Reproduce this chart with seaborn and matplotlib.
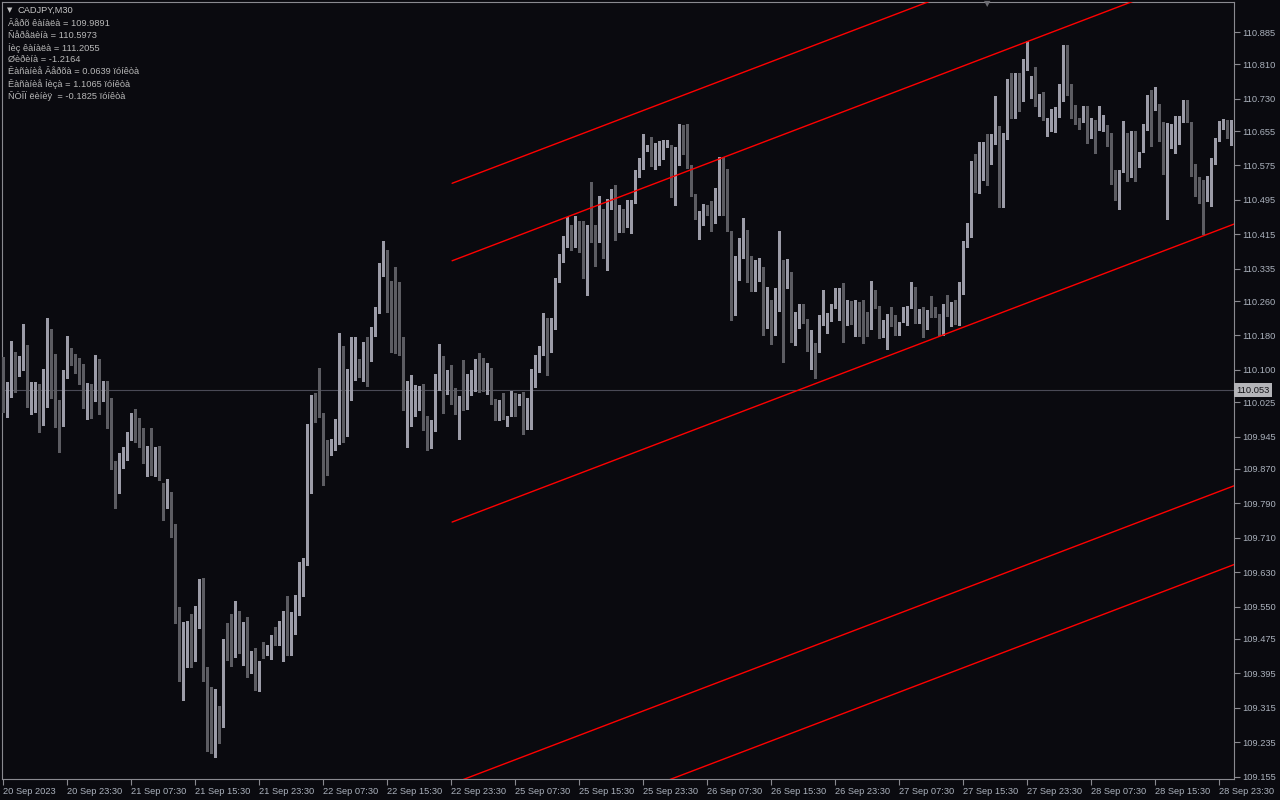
import numpy as np
import pandas as pd
import matplotlib
matplotlib.use("Agg")
import matplotlib.pyplot as plt
import matplotlib.transforms as mtransforms
import seaborn as sns

# ---------------- data (CADJPY, M30) ----------------
opens = [
    110.116, 110.012, 110.049, 110.128, 110.102, 110.114, 110.137, 110.014, 110.028, 110.053,
    109.995, 110.021, 110.139, 110.130, 109.995, 109.970, 110.088, 110.151, 110.121, 110.118,
    110.088, 110.012, 110.049, 110.030, 110.111, 110.049, 110.065, 110.016, 109.874, 109.826,
    109.900, 109.909, 109.939, 109.951, 109.951, 109.939, 109.898, 109.905, 109.856, 109.891,
    109.826, 109.788, 109.809, 109.719, 109.549, 109.384, 109.459, 109.491, 109.431, 109.538,
    109.605, 109.405, 109.287, 109.217, 109.303, 109.294, 109.472, 109.440, 109.438, 109.540,
    109.445, 109.505, 109.407, 109.414, 109.366, 109.461, 109.445, 109.442, 109.477, 109.463,
    109.489, 109.531, 109.484, 109.512, 109.552, 109.633, 109.649, 109.888, 110.037, 110.000,
    109.995, 109.925, 109.916, 109.921, 109.970, 110.097, 109.951, 110.046, 110.095, 110.123,
    110.107, 110.162, 110.123, 110.181, 110.239, 110.327, 110.364, 110.246, 110.237, 110.167,
    110.142, 110.009, 110.044, 110.039, 110.039, 110.065, 109.970, 109.956, 109.958, 110.086,
    110.111, 110.044, 110.081, 110.056, 110.025, 110.035, 110.012, 110.070, 110.079, 110.116,
    110.114, 110.063, 110.088, 110.025, 109.984, 110.025, 109.988, 109.993, 110.030, 110.018,
    110.035, 109.967, 109.991, 110.097, 110.118, 110.135, 110.174, 110.155, 110.197, 110.309,
    110.362, 110.395, 110.425, 110.397, 110.441, 110.429, 110.343, 110.418, 110.413, 110.402,
    110.462, 110.362, 110.476, 110.497, 110.429, 110.460, 110.432, 110.469, 110.492, 110.555,
    110.567, 110.613, 110.620, 110.590, 110.590, 110.590, 110.618, 110.622, 110.506, 110.595,
    110.653, 110.632, 110.567, 110.504, 110.450, 110.460, 110.476, 110.469, 110.443, 110.520,
    110.590, 110.567, 110.422, 110.290, 110.332, 110.360, 110.406, 110.313, 110.295, 110.316,
    110.330, 110.197, 110.260, 110.193, 110.237, 110.355, 110.290, 110.311, 110.179, 110.197,
    110.223, 110.209, 110.148, 110.162, 110.142, 110.213, 110.216, 110.234, 110.244, 110.232,
    110.281, 110.204, 110.260, 110.220, 110.234, 110.234, 110.216, 110.195, 110.278, 110.248,
    110.176, 110.188, 110.230, 110.207, 110.193, 110.211, 110.234, 110.244, 110.288, 110.209,
    110.223, 110.195, 110.237, 110.239, 110.227, 110.183, 110.253, 110.220, 110.260, 110.204,
    110.276, 110.385, 110.409, 110.541, 110.527, 110.562, 110.601, 110.597, 110.625, 110.667,
    110.499, 110.648, 110.773, 110.697, 110.739, 110.725, 110.797, 110.736, 110.759, 110.732,
    110.743, 110.678, 110.676, 110.690, 110.687, 110.748, 110.845, 110.764, 110.692, 110.685,
    110.676, 110.706, 110.653, 110.664, 110.657, 110.655, 110.657, 110.648, 110.534, 110.515,
    110.560, 110.639, 110.578, 110.634, 110.571, 110.606, 110.657, 110.732, 110.704, 110.711,
    110.632, 110.546, 110.636, 110.650, 110.653, 110.676, 110.725, 110.676, 110.576, 110.537,
    110.529, 110.492, 110.546, 110.578, 110.632, 110.660, 110.674, 110.639,
]
highs = [
    110.130, 110.072, 110.167, 110.142, 110.132, 110.207, 110.158, 110.072, 110.072, 110.067,
    110.102, 110.220, 110.195, 110.137, 110.030, 110.100, 110.179, 110.151, 110.137, 110.128,
    110.114, 110.070, 110.067, 110.135, 110.125, 110.074, 110.074, 110.035, 109.888, 109.907,
    109.921, 109.956, 110.000, 110.009, 109.988, 109.965, 109.923, 109.965, 109.921, 109.923,
    109.837, 109.847, 109.816, 109.742, 109.549, 109.514, 109.517, 109.533, 109.552, 109.614,
    109.617, 109.410, 109.363, 109.359, 109.319, 109.475, 109.512, 109.533, 109.563, 109.540,
    109.514, 109.526, 109.447, 109.454, 109.424, 109.468, 109.461, 109.484, 109.503, 109.517,
    109.540, 109.575, 109.538, 109.577, 109.654, 109.663, 109.974, 110.042, 110.046, 110.104,
    110.000, 109.937, 109.939, 109.986, 110.186, 110.155, 110.102, 110.176, 110.176, 110.125,
    110.165, 110.176, 110.200, 110.246, 110.348, 110.399, 110.378, 110.306, 110.339, 110.304,
    110.176, 110.074, 110.088, 110.065, 110.063, 110.067, 109.993, 109.984, 110.090, 110.160,
    110.132, 110.100, 110.111, 110.058, 110.039, 110.123, 110.090, 110.100, 110.125, 110.139,
    110.128, 110.116, 110.104, 110.032, 110.030, 110.046, 109.993, 110.051, 110.046, 110.044,
    110.049, 110.035, 110.102, 110.135, 110.155, 110.232, 110.220, 110.220, 110.313, 110.369,
    110.411, 110.455, 110.436, 110.457, 110.446, 110.446, 110.436, 110.537, 110.436, 110.504,
    110.474, 110.497, 110.520, 110.529, 110.483, 110.474, 110.495, 110.495, 110.564, 110.592,
    110.648, 110.622, 110.641, 110.627, 110.632, 110.634, 110.634, 110.622, 110.618, 110.671,
    110.669, 110.671, 110.576, 110.509, 110.469, 110.485, 110.483, 110.492, 110.522, 110.595,
    110.595, 110.567, 110.422, 110.364, 110.406, 110.453, 110.425, 110.364, 110.355, 110.360,
    110.339, 110.292, 110.262, 110.290, 110.422, 110.355, 110.357, 110.327, 110.234, 110.253,
    110.253, 110.218, 110.193, 110.162, 110.227, 110.285, 110.232, 110.253, 110.290, 110.290,
    110.302, 110.262, 110.260, 110.262, 110.258, 110.262, 110.234, 110.306, 110.285, 110.248,
    110.216, 110.230, 110.246, 110.227, 110.211, 110.246, 110.248, 110.304, 110.292, 110.241,
    110.246, 110.239, 110.272, 110.246, 110.230, 110.253, 110.274, 110.258, 110.262, 110.304,
    110.399, 110.441, 110.585, 110.601, 110.629, 110.629, 110.648, 110.648, 110.736, 110.667,
    110.650, 110.776, 110.790, 110.790, 110.790, 110.822, 110.864, 110.783, 110.804, 110.741,
    110.746, 110.685, 110.706, 110.711, 110.764, 110.855, 110.855, 110.764, 110.715, 110.685,
    110.713, 110.713, 110.685, 110.681, 110.713, 110.692, 110.669, 110.650, 110.564, 110.564,
    110.678, 110.650, 110.655, 110.655, 110.606, 110.671, 110.739, 110.750, 110.757, 110.718,
    110.676, 110.674, 110.671, 110.690, 110.690, 110.727, 110.727, 110.676, 110.578, 110.548,
    110.541, 110.550, 110.592, 110.639, 110.678, 110.683, 110.681, 110.681,
]
lows = [
    110.002, 109.991, 110.037, 110.049, 110.086, 110.100, 110.014, 109.998, 110.002, 109.956,
    109.972, 110.014, 110.035, 109.967, 109.909, 109.970, 110.081, 110.111, 110.093, 110.067,
    110.012, 109.986, 109.988, 110.028, 109.998, 110.028, 109.965, 109.870, 109.779, 109.814,
    109.872, 109.891, 109.937, 109.932, 109.921, 109.884, 109.854, 109.856, 109.854, 109.844,
    109.751, 109.779, 109.712, 109.512, 109.377, 109.333, 109.410, 109.410, 109.424, 109.500,
    109.377, 109.215, 109.210, 109.201, 109.233, 109.270, 109.426, 109.412, 109.433, 109.442,
    109.414, 109.387, 109.396, 109.356, 109.354, 109.431, 109.438, 109.428, 109.461, 109.461,
    109.424, 109.438, 109.438, 109.486, 109.531, 109.575, 109.647, 109.814, 109.979, 109.991,
    109.833, 109.856, 109.902, 109.914, 109.928, 109.932, 109.946, 110.030, 110.077, 110.083,
    110.074, 110.063, 110.121, 110.179, 110.232, 110.318, 110.234, 110.142, 110.139, 110.135,
    110.007, 109.921, 109.970, 109.993, 110.007, 109.960, 109.914, 109.918, 109.958, 110.053,
    110.000, 110.044, 110.021, 109.998, 109.939, 110.007, 110.009, 110.042, 110.051, 110.049,
    110.051, 110.044, 110.021, 109.984, 109.984, 109.986, 109.970, 109.993, 109.993, 110.018,
    109.951, 109.963, 109.963, 110.060, 110.095, 110.135, 110.088, 110.142, 110.195, 110.304,
    110.350, 110.385, 110.378, 110.385, 110.374, 110.313, 110.274, 110.397, 110.341, 110.397,
    110.360, 110.332, 110.474, 110.402, 110.420, 110.420, 110.432, 110.418, 110.488, 110.548,
    110.567, 110.608, 110.574, 110.567, 110.576, 110.590, 110.618, 110.502, 110.483, 110.576,
    110.601, 110.569, 110.504, 110.450, 110.404, 110.436, 110.460, 110.422, 110.441, 110.460,
    110.460, 110.422, 110.216, 110.227, 110.309, 110.360, 110.304, 110.283, 110.283, 110.306,
    110.181, 110.197, 110.160, 110.181, 110.237, 110.118, 110.290, 110.165, 110.158, 110.197,
    110.209, 110.144, 110.102, 110.081, 110.142, 110.204, 110.186, 110.213, 110.244, 110.216,
    110.165, 110.204, 110.207, 110.179, 110.179, 110.162, 110.179, 110.195, 110.244, 110.174,
    110.176, 110.148, 110.202, 110.181, 110.181, 110.211, 110.204, 110.244, 110.209, 110.209,
    110.176, 110.195, 110.223, 110.223, 110.181, 110.181, 110.225, 110.202, 110.207, 110.204,
    110.276, 110.385, 110.409, 110.513, 110.511, 110.541, 110.529, 110.578, 110.625, 110.478,
    110.478, 110.636, 110.685, 110.685, 110.701, 110.725, 110.797, 110.732, 110.713, 110.690,
    110.681, 110.643, 110.655, 110.653, 110.687, 110.725, 110.739, 110.685, 110.671, 110.660,
    110.676, 110.627, 110.639, 110.604, 110.657, 110.655, 110.620, 110.532, 110.495, 110.474,
    110.560, 110.539, 110.548, 110.539, 110.571, 110.606, 110.657, 110.620, 110.704, 110.632,
    110.555, 110.450, 110.615, 110.604, 110.625, 110.676, 110.676, 110.550, 110.504, 110.488,
    110.416, 110.492, 110.481, 110.578, 110.632, 110.660, 110.639, 110.622,
]
closes = [
    110.002, 110.056, 110.125, 110.100, 110.116, 110.137, 110.014, 110.035, 110.053, 109.998,
    110.051, 110.144, 110.130, 109.988, 109.970, 110.093, 110.176, 110.128, 110.114, 110.088,
    110.014, 110.046, 110.035, 110.116, 110.046, 110.063, 110.016, 109.874, 109.830, 109.900,
    109.909, 109.942, 109.949, 109.949, 109.939, 109.898, 109.905, 109.858, 109.891, 109.847,
    109.788, 109.812, 109.719, 109.547, 109.380, 109.463, 109.489, 109.445, 109.540, 109.610,
    109.400, 109.282, 109.219, 109.303, 109.296, 109.472, 109.438, 109.438, 109.540, 109.447,
    109.503, 109.405, 109.417, 109.366, 109.417, 109.447, 109.449, 109.475, 109.461, 109.489,
    109.528, 109.491, 109.517, 109.554, 109.638, 109.647, 109.888, 110.037, 109.995, 109.993,
    109.918, 109.907, 109.921, 109.972, 110.102, 109.946, 110.046, 110.102, 110.125, 110.109,
    110.162, 110.121, 110.181, 110.239, 110.327, 110.348, 110.237, 110.234, 110.165, 110.142,
    110.007, 110.046, 110.044, 110.039, 110.058, 109.967, 109.956, 109.960, 110.088, 110.111,
    110.042, 110.083, 110.021, 110.046, 110.037, 110.018, 110.067, 110.079, 110.114, 110.109,
    110.063, 110.088, 110.021, 109.984, 110.021, 109.986, 109.988, 110.032, 110.021, 110.035,
    109.970, 109.991, 110.097, 110.121, 110.137, 110.179, 110.155, 110.202, 110.306, 110.367,
    110.397, 110.429, 110.399, 110.446, 110.429, 110.343, 110.420, 110.409, 110.404, 110.462,
    110.360, 110.476, 110.499, 110.427, 110.460, 110.434, 110.469, 110.495, 110.562, 110.569,
    110.648, 110.613, 110.599, 110.615, 110.620, 110.622, 110.622, 110.506, 110.595, 110.650,
    110.625, 110.569, 110.504, 110.453, 110.462, 110.476, 110.464, 110.443, 110.520, 110.592,
    110.562, 110.422, 110.285, 110.332, 110.362, 110.411, 110.316, 110.292, 110.320, 110.332,
    110.200, 110.258, 110.193, 110.239, 110.299, 110.278, 110.311, 110.176, 110.202, 110.227,
    110.209, 110.151, 110.162, 110.139, 110.225, 110.227, 110.232, 110.246, 110.274, 110.278,
    110.200, 110.258, 110.218, 110.234, 110.227, 110.213, 110.200, 110.278, 110.244, 110.174,
    110.190, 110.227, 110.202, 110.193, 110.211, 110.239, 110.246, 110.285, 110.211, 110.225,
    110.195, 110.239, 110.234, 110.227, 110.183, 110.253, 110.225, 110.258, 110.207, 110.276,
    110.385, 110.406, 110.541, 110.527, 110.562, 110.599, 110.597, 110.625, 110.669, 110.502,
    110.650, 110.773, 110.699, 110.741, 110.725, 110.804, 110.820, 110.762, 110.736, 110.741,
    110.681, 110.678, 110.699, 110.701, 110.750, 110.843, 110.753, 110.690, 110.683, 110.678,
    110.706, 110.655, 110.664, 110.653, 110.681, 110.683, 110.643, 110.532, 110.513, 110.562,
    110.641, 110.581, 110.634, 110.571, 110.606, 110.657, 110.729, 110.706, 110.711, 110.632,
    110.560, 110.636, 110.650, 110.657, 110.674, 110.722, 110.676, 110.571, 110.537, 110.525,
    110.492, 110.550, 110.578, 110.639, 110.671, 110.676, 110.639, 110.674,
]

# regression channel (upper / lower bands) drawn from bar 112.2 to right edge
channel_names = ["upper2", "upper1", "middle", "lower1", "lower2"]
channel_start_bar = 112.2
channel_end_bar = 307.75
channel_start_price = [110.5335, 110.3535, 109.7465, 109.1385, 108.9555]
channel_end_price = [111.226, 111.046, 110.439, 109.831, 109.648]

bid_price = 110.053
bid_label = "110.053"

y_tick_values = [110.885, 110.810, 110.730, 110.655, 110.575, 110.495, 110.415, 110.335,
                 110.260, 110.180, 110.100, 110.025, 109.945, 109.870, 109.790, 109.710,
                 109.630, 109.550, 109.475, 109.395, 109.315, 109.235, 109.155]
y_tick_labels = ["110.885", "110.810", "110.730", "110.655", "110.575", "110.495", "110.415",
                 "110.335", "110.260", "110.180", "110.100", "110.025", "109.945", "109.870",
                 "109.790", "109.710", "109.630", "109.550", "109.475", "109.395", "109.315",
                 "109.235", "109.155"]
x_tick_bars = [0, 16, 32, 48, 64, 80, 96, 112, 128, 144, 160, 176, 192, 208, 224, 240,
               256, 272, 288, 304]
x_tick_labels = ["20 Sep 2023", "20 Sep 23:30", "21 Sep 07:30", "21 Sep 15:30", "21 Sep 23:30",
                 "22 Sep 07:30", "22 Sep 15:30", "22 Sep 23:30", "25 Sep 07:30", "25 Sep 15:30",
                 "25 Sep 23:30", "26 Sep 07:30", "26 Sep 15:30", "26 Sep 23:30", "27 Sep 07:30",
                 "27 Sep 15:30", "27 Sep 23:30", "28 Sep 07:30", "28 Sep 15:30", "28 Sep 23:30"]

info_lines = [
    "Âåðõ êàíàëà = 109.9891",
    "Ñåðåäèíà = 110.5973",
    "Íèç êàíàëà = 111.2055",
    "Øèðèíà = -1.2164",
    "Êàñàíèå Âåðõà = 0.0639 ïóíêòà",
    "Êàñàíèå Íèçà = 1.1065 ïóíêòà",
    "ÑÒÎÏ ëèíèÿ  = -0.1825 ïóíêòà",
]
symbol_title = "CADJPY,M30"

# ---------------- style ----------------
BG = "#0a0a0f"
BULL = "#9c9ca8"
BEAR = "#5c5c62"
AXC = "#8a8a90"
TXT = "#aab1bc"
FS = 6.7

sns.set_style("dark", {"axes.facecolor": BG, "figure.facecolor": BG})
plt.rcParams["font.family"] = ["Liberation Sans", "DejaVu Sans"]

W, H = 1280, 800
fig = plt.figure(figsize=(W / 100, H / 100), dpi=100, facecolor=BG)
ax = fig.add_axes([2 / W, 21 / H, 1232.3 / W, 776.7 / H], facecolor=BG)

o = np.array(opens)
c = np.array(closes)
h = np.maximum(np.array(highs), np.maximum(o, c))
l = np.minimum(np.array(lows), np.minimum(o, c))
x = np.arange(len(o))
bull = c >= o
colors = np.where(bull, BULL, BEAR)

# wicks
ax.vlines(x, l, h, colors=colors, linewidth=0.75, antialiased=False, zorder=3)
# bodies
body_bottom = np.minimum(o, c)
body_h = np.maximum(np.abs(c - o), 0.0024)
ax.bar(x, body_h, bottom=body_bottom, width=0.72, color=colors, linewidth=0,
       antialiased=False, zorder=4)

# channel lines with seaborn
rows = []
for name, p0, p1 in zip(channel_names, channel_start_price, channel_end_price):
    rows.append({"bar": channel_start_bar, "price": p0, "line": name})
    rows.append({"bar": channel_end_bar, "price": p1, "line": name})
df_ch = pd.DataFrame(rows)
sns.lineplot(data=df_ch, x="bar", y="price", hue="line", palette=["#ff0000"] * 5,
             estimator=None, sort=False, legend=False, linewidth=1.0, ax=ax, zorder=5)

# bid line
ax.axhline(bid_price, color="#4a4a56", linewidth=0.8, zorder=2)

ax.set_xlim(-0.325, 307.75)
ax.set_ylim(109.1496, 110.954)
ax.set_xlabel("")
ax.set_ylabel("")
ax.grid(False)

for s in ax.spines.values():
    s.set_visible(True)
    s.set_color(AXC)
    s.set_linewidth(0.8)

ax.yaxis.tick_right()
ax.set_yticks(y_tick_values)
ax.set_yticklabels(y_tick_labels)
ax.set_xticks(x_tick_bars)
ax.set_xticklabels(x_tick_labels, ha="left")
ax.tick_params(axis="y", which="both", right=True, left=False, direction="out",
               length=4, width=0.8, color=AXC, labelcolor=TXT, labelsize=FS, pad=2)
ax.tick_params(axis="x", which="both", bottom=True, direction="out",
               length=4, width=0.8, color=AXC, labelcolor=TXT, labelsize=FS, pad=2)

# bid price label box on the price scale
trans = mtransforms.blended_transform_factory(ax.transAxes, ax.transData)
ax.text(1.0 + 2 / 1232.3, bid_price, bid_label, transform=trans, ha="left", va="center",
        fontsize=FS, color="#141418", zorder=10, clip_on=False,
        bbox=dict(facecolor="#b4b4b8", edgecolor="none", pad=1.6))

# header info text
fig.text(10 / W, 1 - 10 / H, "▼", fontsize=5, color="#c4c4c4", ha="center", va="center",
         family=["DejaVu Sans"])
fig.text(18 / W, 1 - 10.5 / H, symbol_title, fontsize=FS, color="#c4c4c4",
         ha="left", va="center")
for i, line in enumerate(info_lines):
    fig.text(8 / W, 1 - (24.0 + 11.95 * i) / H, line, fontsize=FS, color="#b8b8b8",
             ha="left", va="center")

# chart-shift marker at top
fig.text(987 / W, 1 - 4 / H, "▼", fontsize=6, color="#6c6c72", ha="center", va="center",
         family=["DejaVu Sans"])

fig.savefig("out.png", dpi=100, facecolor=BG)
